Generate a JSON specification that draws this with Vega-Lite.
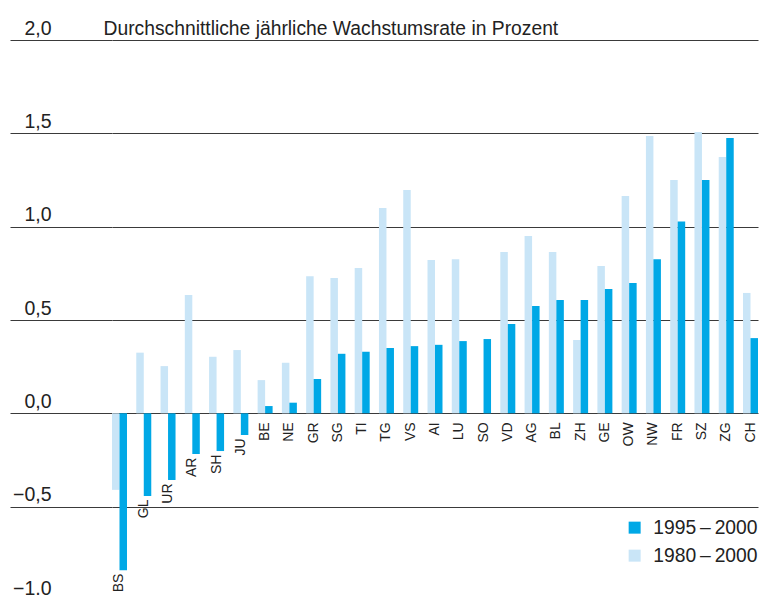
{
  "$schema": "https://vega.github.io/schema/vega-lite/v6.json",
  "width": 646,
  "height": 560,
  "autosize": "none",
  "padding": {"left": 112, "top": 40, "right": 2, "bottom": 0},
  "background": "white",
  "config": {"view": {"stroke": null}, "font": "Liberation Sans"},
  "data": {"values": [
    {"k": "BS", "s": "1980–2000", "v": -0.41}, {"k": "BS", "s": "1995–2000", "v": -0.84},
    {"k": "GL", "s": "1980–2000", "v": 0.325}, {"k": "GL", "s": "1995–2000", "v": -0.443},
    {"k": "UR", "s": "1980–2000", "v": 0.253}, {"k": "UR", "s": "1995–2000", "v": -0.357},
    {"k": "AR", "s": "1980–2000", "v": 0.634}, {"k": "AR", "s": "1995–2000", "v": -0.218},
    {"k": "SH", "s": "1980–2000", "v": 0.303}, {"k": "SH", "s": "1995–2000", "v": -0.202},
    {"k": "JU", "s": "1980–2000", "v": 0.339}, {"k": "JU", "s": "1995–2000", "v": -0.116},
    {"k": "BE", "s": "1980–2000", "v": 0.178}, {"k": "BE", "s": "1995–2000", "v": 0.039},
    {"k": "NE", "s": "1980–2000", "v": 0.271}, {"k": "NE", "s": "1995–2000", "v": 0.057},
    {"k": "GR", "s": "1980–2000", "v": 0.735}, {"k": "GR", "s": "1995–2000", "v": 0.184},
    {"k": "SG", "s": "1980–2000", "v": 0.725}, {"k": "SG", "s": "1995–2000", "v": 0.319},
    {"k": "TI", "s": "1980–2000", "v": 0.778}, {"k": "TI", "s": "1995–2000", "v": 0.33},
    {"k": "TG", "s": "1980–2000", "v": 1.1}, {"k": "TG", "s": "1995–2000", "v": 0.35},
    {"k": "VS", "s": "1980–2000", "v": 1.196}, {"k": "VS", "s": "1995–2000", "v": 0.36},
    {"k": "AI", "s": "1980–2000", "v": 0.821}, {"k": "AI", "s": "1995–2000", "v": 0.367},
    {"k": "LU", "s": "1980–2000", "v": 0.826}, {"k": "LU", "s": "1995–2000", "v": 0.387},
    {"k": "SO", "s": "1995–2000", "v": 0.398},
    {"k": "VD", "s": "1980–2000", "v": 0.864}, {"k": "VD", "s": "1995–2000", "v": 0.478},
    {"k": "AG", "s": "1980–2000", "v": 0.95}, {"k": "AG", "s": "1995–2000", "v": 0.575},
    {"k": "BL", "s": "1980–2000", "v": 0.864}, {"k": "BL", "s": "1995–2000", "v": 0.607},
    {"k": "ZH", "s": "1980–2000", "v": 0.393}, {"k": "ZH", "s": "1995–2000", "v": 0.607},
    {"k": "GE", "s": "1980–2000", "v": 0.789}, {"k": "GE", "s": "1995–2000", "v": 0.666},
    {"k": "OW", "s": "1980–2000", "v": 1.164}, {"k": "OW", "s": "1995–2000", "v": 0.698},
    {"k": "NW", "s": "1980–2000", "v": 1.486}, {"k": "NW", "s": "1995–2000", "v": 0.826},
    {"k": "FR", "s": "1980–2000", "v": 1.25}, {"k": "FR", "s": "1995–2000", "v": 1.028},
    {"k": "SZ", "s": "1980–2000", "v": 1.507}, {"k": "SZ", "s": "1995–2000", "v": 1.25},
    {"k": "ZG", "s": "1980–2000", "v": 1.373}, {"k": "ZG", "s": "1995–2000", "v": 1.475},
    {"k": "CH", "s": "1980–2000", "v": 0.645}, {"k": "CH", "s": "1995–2000", "v": 0.403}
  ]},
  "layer": [
    {
      "mark": {"type": "bar"},
      "encoding": {
        "x": {"field": "k", "type": "nominal",
              "sort": ["BS","GL","UR","AR","SH","JU","BE","NE","GR","SG","TI","TG","VS","AI","LU","SO","VD","AG","BL","ZH","GE","OW","NW","FR","SZ","ZG","CH"],
              "scale": {"paddingInner": 0.382, "paddingOuter": 0},
              "axis": null},
        "xOffset": {"field": "s", "type": "nominal", "scale": {"domain": ["1980–2000", "1995–2000"], "paddingInner": 0, "paddingOuter": 0}},
        "y": {"field": "v", "type": "quantitative", "stack": null,
              "scale": {"domain": [-1, 2], "nice": false, "zero": false},
              "axis": {
                "values": [-1, -0.5, 0, 0.5, 1, 1.5, 2],
                "grid": true, "gridColor": "#3a3a3a", "gridWidth": 1, "gridOpacity": 1,
                "domain": false, "ticks": true, "tickSize": 102, "tickColor": "#3a3a3a", "tickWidth": 1, "tickOpacity": 1,
                "labelPadding": -41, "labelAlign": "right", "labelBaseline": "alphabetic", "labelOffset": -6,
                "labelFontSize": 19.5, "labelColor": "#222222", "labelFont": "Liberation Sans",
                "labelFlush": false, "labelOverlap": false,
                "labelExpr": "replace(format(datum.value, '.1f'), '.', ',')",
                "title": "Durchschnittliche jährliche Wachstumsrate in Prozent",
                "titleAngle": 0, "titleX": -9, "titleY": -6, "titleAlign": "left", "titleBaseline": "alphabetic",
                "titleFontSize": 19.3, "titleFontWeight": "normal", "titleColor": "#222222", "titleFont": "Liberation Sans"
              }},
        "color": {"field": "s", "type": "nominal",
                  "scale": {"domain": ["1995–2000", "1980–2000"], "range": ["#00a8e6", "#c9e5f7"]},
                  "legend": {"orient": "none", "legendX": 513, "legendY": 478, "title": null,
                             "symbolType": "square", "symbolSize": 144, "symbolStrokeWidth": 0,
                             "labelFontSize": 19.3, "labelColor": "#222222", "labelFont": "Liberation Sans",
                             "labelExpr": "replace(datum.label, '–', '\u2009–\u2009')",
                             "padding": 0, "rowPadding": 8, "labelOffset": 9}}
      }
    },
    {
      "transform": [{"filter": "datum.s === '1995–2000' && datum.v < 0"}],
      "mark": {"type": "text", "angle": 270, "align": "right", "baseline": "middle", "dx": -3.5, "fontSize": 14, "color": "#222222", "font": "Liberation Sans"},
      "encoding": {
        "x": {"field": "k", "type": "nominal",
              "sort": ["BS","GL","UR","AR","SH","JU","BE","NE","GR","SG","TI","TG","VS","AI","LU","SO","VD","AG","BL","ZH","GE","OW","NW","FR","SZ","ZG","CH"]},
        "y": {"field": "v", "type": "quantitative"},
        "text": {"field": "k"}
      }
    },
    {
      "transform": [{"filter": "datum.s === '1995–2000' && datum.v >= 0"}],
      "mark": {"type": "text", "angle": 270, "align": "right", "baseline": "middle", "dx": -9, "fontSize": 14, "color": "#222222", "font": "Liberation Sans"},
      "encoding": {
        "x": {"field": "k", "type": "nominal",
              "sort": ["BS","GL","UR","AR","SH","JU","BE","NE","GR","SG","TI","TG","VS","AI","LU","SO","VD","AG","BL","ZH","GE","OW","NW","FR","SZ","ZG","CH"]},
        "y": {"datum": 0, "type": "quantitative"},
        "text": {"field": "k"}
      }
    }
  ]
}
